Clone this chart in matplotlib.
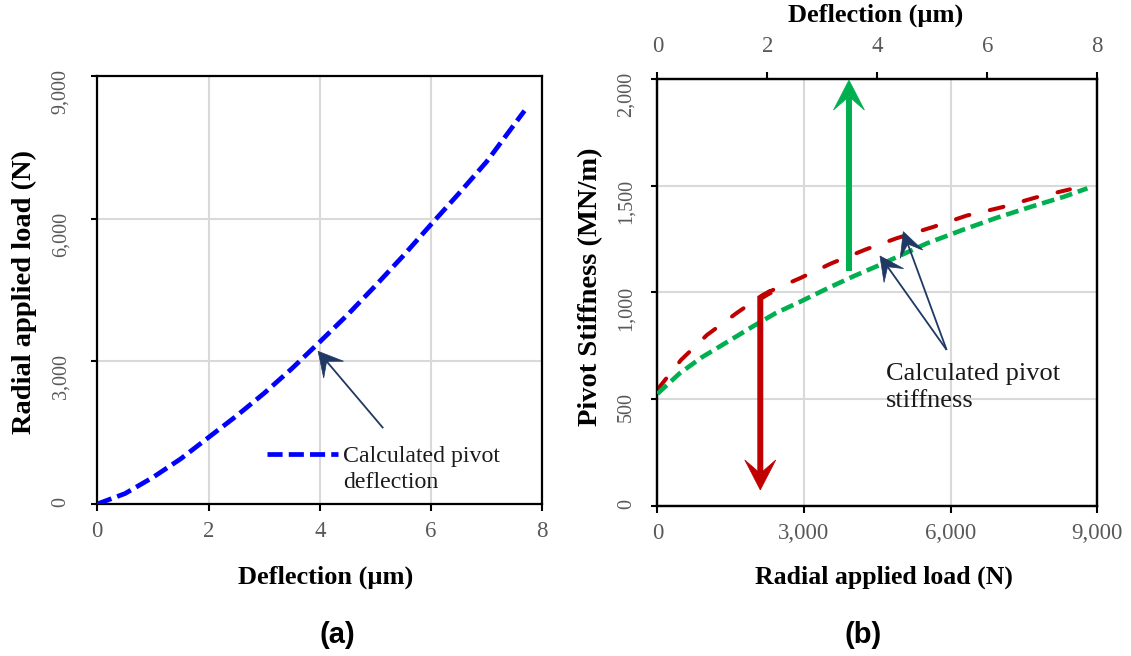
import numpy as np
import matplotlib
matplotlib.use("Agg")
import matplotlib.pyplot as plt
from matplotlib.lines import Line2D
from matplotlib.patches import Polygon
from matplotlib.transforms import IdentityTransform
from matplotlib.ticker import FuncFormatter, MultipleLocator

# ---- (a) load vs deflection ----
deflection_a = [0, 0.5, 1, 1.5, 2, 2.5, 3, 3.5, 4, 4.5, 5, 5.5, 6, 6.5, 7, 7.68]
load_a = [0, 220, 560, 950, 1400, 1850, 2330, 2850, 3410, 3980, 4590, 5220, 5880, 6530, 7200, 8270]

# ---- (b) pivot stiffness vs load (bottom axis) ----
load_b = [0, 485, 1016, 1630, 2160, 2393, 2910, 3566, 4268, 4895, 5644, 6327, 7043, 7759, 8440]
stiffness_vs_load = [545, 684, 801, 905, 988, 1015, 1066, 1137, 1202, 1254, 1307, 1360, 1399, 1446, 1483]

# ---- (b) pivot stiffness vs deflection (top axis) ----
deflection_b = [0, 0.4, 0.8, 1.25, 1.75, 2.15, 2.6, 3.1, 3.55, 4.0, 4.9, 5.55, 6.15, 6.8, 7.4, 7.82]
stiffness_vs_defl = [525, 620, 695, 765, 843, 903, 957, 1020, 1074, 1124, 1230, 1293, 1348, 1402, 1449, 1488]

SERIF = "Liberation Serif"
SANS = "Liberation Sans"
TICK_GRAY = "#595959"
GRID = "#D9D9D9"
NAVY = "#1F3864"
BLUE = "#0000FF"
RED = "#C00000"
GREEN = "#00B050"

fig = plt.figure(figsize=(11.31, 6.56), dpi=100)
axA = fig.add_axes([0.0860, 0.2317, 0.3935, 0.6524])
axB = fig.add_axes([0.5812, 0.2287, 0.3890, 0.6509])

thousands = FuncFormatter(lambda v, p: f"{v:,.0f}")


def style_axes(ax):
    for s in ax.spines.values():
        s.set_linewidth(1.6)
        s.set_color("black")
    ax.grid(True, color=GRID, linewidth=1.5, zorder=0)
    ax.set_axisbelow(True)
    ax.tick_params(axis="x", direction="out", length=5, width=1.5,
                   labelsize=16.5, labelcolor=TICK_GRAY, pad=7)
    ax.tick_params(axis="y", direction="out", length=4.5, width=1.5,
                   labelsize=14.5, labelcolor=TICK_GRAY, labelrotation=90)
    for lab in ax.get_xticklabels() + ax.get_yticklabels():
        lab.set_fontfamily(SERIF)


def stealth_arrow(ax, points, color, lw, head_len, head_w, notch=0.55):
    """Polyline arrow in data coords with a notched (stealth) head, drawn in pixels."""
    disp = ax.transData.transform(np.asarray(points, dtype=float))
    tip, prev = disp[-1], disp[-2]
    u = (tip - prev) / np.hypot(*(tip - prev))
    n = np.array([-u[1], u[0]])
    base = tip - u * head_len * notch
    shaft = np.vstack([disp[:-1], base])
    fig.add_artist(Line2D(shaft[:, 0], shaft[:, 1], transform=IdentityTransform(),
                          color=color, linewidth=lw, solid_capstyle="butt",
                          solid_joinstyle="miter", zorder=5))
    head = np.array([tip,
                     tip - u * head_len + n * head_w / 2,
                     tip - u * head_len * notch,
                     tip - u * head_len - n * head_w / 2])
    fig.add_artist(Polygon(head, closed=True, transform=IdentityTransform(),
                           facecolor=color, edgecolor=color, linewidth=0.5, zorder=6))


# ================= panel (a) =================
axA.set_xlim(0, 8)
axA.set_ylim(0, 9000)
axA.xaxis.set_major_locator(MultipleLocator(2))
axA.yaxis.set_major_locator(MultipleLocator(3000))
axA.yaxis.set_major_formatter(thousands)
style_axes(axA)
axA.tick_params(axis="y", pad=15)

axA.plot(deflection_a, load_a, color=BLUE, linewidth=3.4,
         linestyle=(0, (3.2, 1.3)), dash_capstyle="butt", zorder=3)

axA.set_xlabel("Deflection (µm)", fontfamily=SERIF, fontweight="bold", fontsize=19)
axA.xaxis.set_label_coords(0.513, -0.171)
axA.xaxis.label.set_va("center")
axA.set_ylabel("Radial applied load (N)", fontfamily=SERIF, fontweight="bold", fontsize=20.5)
axA.yaxis.set_label_coords(-0.163, 0.495)
axA.yaxis.label.set_va("center")

# legend-style key and label
axA.plot([3.045, 4.33], [1045, 1045], color=BLUE, linewidth=3.4,
         linestyle=(0, (3.2, 1.3)), dash_capstyle="butt", zorder=3)
axA.text(4.42, 1220, "Calculated pivot\ndeflection", fontfamily=SERIF, fontsize=17.2,
         ha="left", va="top", linespacing=1.3, color="#1a1a1a", zorder=4)

fig.text(0.2985, 1 - 635 / 656, "(a)", fontfamily=SANS, fontweight="bold",
         fontsize=21, ha="center", va="center")

# ================= panel (b) =================
axB.set_xlim(0, 9000)
axB.set_ylim(0, 2000)
axB.xaxis.set_major_locator(MultipleLocator(3000))
axB.xaxis.set_major_formatter(thousands)
axB.yaxis.set_major_locator(MultipleLocator(500))
axB.yaxis.set_major_formatter(thousands)
style_axes(axB)
axB.tick_params(axis="y", pad=11)

axB.plot(load_b, stiffness_vs_load, color=RED, linewidth=2.9,
         linestyle=(0, (3.5, 5.2)), dash_capstyle="round", zorder=3)

axB.set_xlabel("Radial applied load (N)", fontfamily=SERIF, fontweight="bold", fontsize=18.5)
axB.xaxis.set_label_coords(0.515, -0.166)
axB.xaxis.label.set_va("center")
axB.set_ylabel("Pivot Stiffness (MN/m)", fontfamily=SERIF, fontweight="bold", fontsize=20.5)
axB.yaxis.set_label_coords(-0.151, 0.513)
axB.yaxis.label.set_va("center")

axT = axB.twiny()
axT.set_xlim(0, 8)
axT.xaxis.set_major_locator(MultipleLocator(2))
for s in axT.spines.values():
    s.set_linewidth(1.6)
axT.tick_params(axis="x", direction="out", length=5, width=1.5, labelsize=16.5,
                labelcolor=TICK_GRAY, pad=11)
for lab in axT.get_xticklabels():
    lab.set_fontfamily(SERIF)
axT.plot(deflection_b, stiffness_vs_defl, color=GREEN, linewidth=3.3,
         linestyle=(0, (2.8, 1.3)), dash_capstyle="butt", zorder=3)
axT.set_xlabel("Deflection (µm)", fontfamily=SERIF, fontweight="bold", fontsize=19)
axT.xaxis.set_label_coords(0.496, 1.150)
axT.xaxis.label.set_va("center")

axB.text(4680, 670, "Calculated pivot\nstiffness", fontfamily=SERIF, fontsize=19,
         ha="left", va="top", linespacing=1.32, color="#1a1a1a", zorder=4)

fig.text(863 / 1131, 1 - 635 / 656, "(b)", fontfamily=SANS, fontweight="bold",
         fontsize=21, ha="center", va="center")

# ---- annotation arrows ----
stealth_arrow(axA, [(5.14, 1595), (3.97, 3211)], NAVY, 1.3, 24, 26)
stealth_arrow(axB, [(5918, 731), (4554, 1171)], NAVY, 1.3, 24, 24)
stealth_arrow(axB, [(5918, 731), (5031, 1285)], NAVY, 1.3, 24, 24)
stealth_arrow(axB, [(3920, 1102), (3920, 1995)], GREEN, 4.3, 30, 31)
stealth_arrow(axB, [(2330, 1005), (2106, 975), (2106, 75)], RED, 4.3, 30, 31)

fig.savefig("out.png", dpi=100)
